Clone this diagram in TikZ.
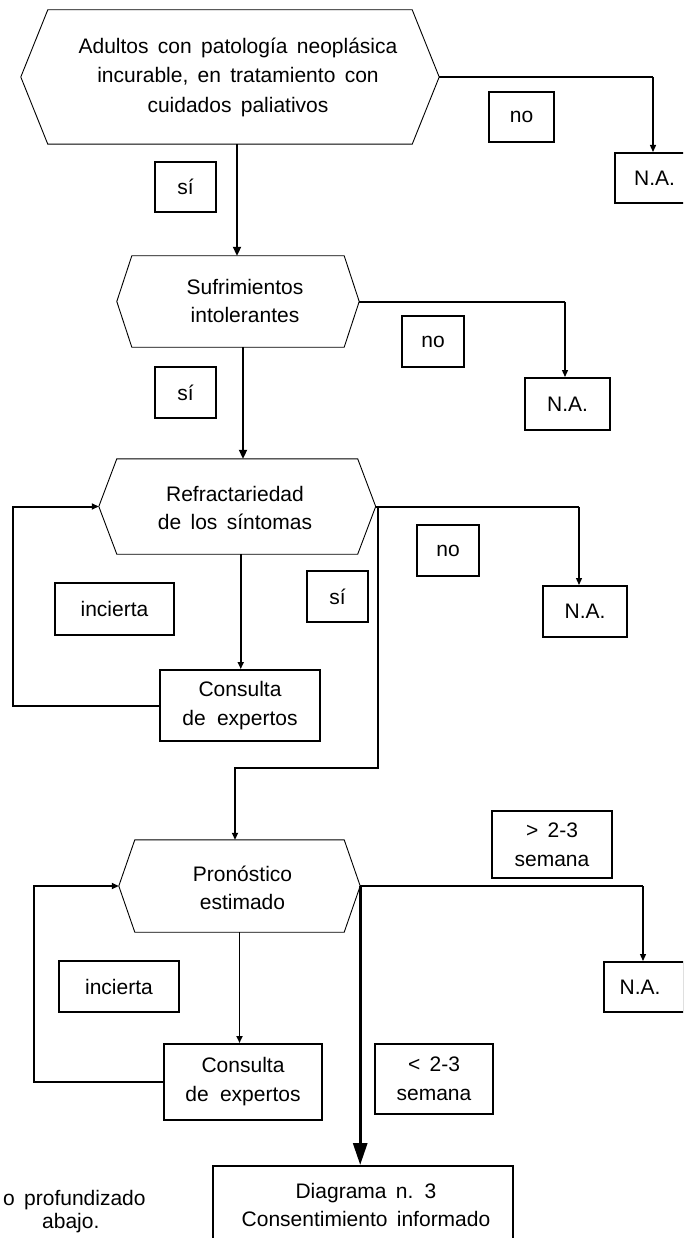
\documentclass[tikz,border=0pt]{standalone}
\usepackage{fontspec}
\setmainfont{Liberation Sans}[WordSpace=1.6]
\usetikzlibrary{arrows.meta}
\tikzset{
  txt/.style={align=center, inner sep=0pt, font=\fontsize{21}{28.5}\selectfont},
  hexn/.style={draw=none, inner sep=0pt},
  hexline/.style={line width=0.9pt, line join=miter},
  box/.style={draw, line width=2pt, inner sep=0pt, align=center, font=\fontsize{21}{29}\selectfont},
  thk/.style={line width=2pt},
  med/.style={line width=1.8pt},
  thn/.style={line width=1.3pt},
  vthk/.style={line width=3pt},
  arr/.style={-{Triangle[length=9pt,width=8pt]}},
  sarr/.style={-{Triangle[length=7pt,width=6pt]}},
  bigarr/.style={-{Triangle[length=22pt,width=14pt]}},
}
\begin{document}
\begin{tikzpicture}[x=1pt,y=-1pt]
\useasboundingbox (0,0) rectangle (683,1238);
\clip (0,0) rectangle (683,1238);
\fill[white] (0,0) rectangle (683,1238);

% hexagons
\node[hexn, minimum width=418, minimum height=134] (h1) at (230,77) {};
\draw[hexline] ([xshift=27]h1.north west) -- ([xshift=-27]h1.north east) -- (h1.east) -- ([xshift=-27]h1.south east) -- ([xshift=27]h1.south west) -- (h1.west) -- cycle;
\node[txt, font=\fontsize{21}{29.5}\selectfont] (h1t) at (238,77) {Adultos con patología neoplásica\\incurable, en tratamiento con\\cuidados paliativos};

\node[hexn, minimum width=242, minimum height=91] (h2) at (238,301.5) {};
\draw[hexline] ([xshift=15]h2.north west) -- ([xshift=-15]h2.north east) -- (h2.east) -- ([xshift=-15]h2.south east) -- ([xshift=15]h2.south west) -- (h2.west) -- cycle;
\node[txt] (h2t) at (245,301) {Sufrimientos\\intolerantes};

\node[hexn, minimum width=276.5, minimum height=95] (h3) at (237.25,506.5) {};
\draw[hexline] ([xshift=18]h3.north west) -- ([xshift=-18]h3.north east) -- (h3.east) -- ([xshift=-18]h3.south east) -- ([xshift=18]h3.south west) -- (h3.west) -- cycle;
\node[txt, font=\fontsize{21}{27.5}\selectfont] (h3t) at (235,508) {Refractariedad\\de los síntomas};

\node[hexn, minimum width=241, minimum height=92] (h4) at (239.5,886) {};
\draw[hexline] ([xshift=16]h4.north west) -- ([xshift=-16]h4.north east) -- (h4.east) -- ([xshift=-16]h4.south east) -- ([xshift=16]h4.south west) -- (h4.west) -- cycle;
\node[txt] (h4t) at (242.5,888) {Pronóstico\\estimado};

% boxes
\node[box, minimum width=76, minimum height=50] (na1) at (653,178) {};
\node[txt] (na1t) at (654.5,178) {N.A.};
\node[box, minimum width=85, minimum height=52] (na2) at (567.5,404) {N.A.};
\node[box, minimum width=84, minimum height=51] (na3) at (585,611.5) {N.A.};
\node[box, minimum width=80, minimum height=50] (na4) at (644,987) {};
\node[txt] (na4t) at (640,987) {N.A.};

\node[box, minimum width=65, minimum height=50] (no1) at (521.5,117) {no};
\node[box, minimum width=61, minimum height=50] (si1) at (185.5,187) {sí};
\node[box, minimum width=62, minimum height=51] (no2) at (433,341.5) {no};
\node[box, minimum width=61, minimum height=51] (si2) at (185.5,392.5) {sí};
\node[box, minimum width=62, minimum height=51] (no3) at (448,550.5) {no};
\node[box, minimum width=61, minimum height=51] (si3) at (337.5,596.5) {sí};
\node[box, minimum width=119, minimum height=52] (inc1) at (114.5,609) {incierta};
\node[box, minimum width=120, minimum height=51] (inc2) at (119,986.5) {incierta};
\node[box, minimum width=120, minimum height=67] (gt) at (552,844.5) {> 2-3\\semana};
\node[box, minimum width=118, minimum height=70] (lt) at (434,1079) {< 2-3\\semana};

\node[box, minimum width=160, minimum height=71] (c1) at (240,705.5) {Consulta\\de\kern2pt\ expertos};
\node[box, minimum width=158, minimum height=76] (c2) at (243,1082) {Consulta\\de\kern2pt\ expertos};

\node[box, minimum width=300, minimum height=110, anchor=north] (diag) at (363,1165) {};
\node[txt] (diagt) at (366,1205) {Diagrama n. 3\\Consentimiento informado};

\node[txt, anchor=base west] (ft1) at (3,1205) {o profundizado};
\node[txt, anchor=base west] (ft2) at (42,1228) {abajo.};

% connectors
\draw[thk, arr] ([xshift=-1]h2.north |- h1.south) -- ([xshift=-1]h2.north);
\draw[thk] (h1.east) -- (h1.east -| na1.north);
\draw[thn, sarr] (h1.east -| na1.north) -- (na1.north);

\draw[thk] (h2.east) -- ([xshift=-2.5]h2.east -| na2.north);
\draw[thn, sarr] ([xshift=-2.5]h2.east -| na2.north) -- ([xshift=-2.5]na2.north);

\draw[thk, arr] ([xshift=5]h2.south) -- ([xshift=5]h2.south |- h3.north);

\draw[thk] (h3.east) -- ([xshift=-6]h3.east -| na3.north);
\draw[thn, sarr] ([xshift=-6]h3.east -| na3.north) -- ([xshift=-6]na3.north);

\coordinate (bend) at (378,768);
\draw[thk, sarr] ([xshift=2.5]h3.east) |- ([xshift=-4.5]h4.north |- bend) -- ([xshift=-4.5]h4.north);

\draw[med, sarr] ([xshift=3.5]h3.south) -- ([xshift=3.5]h3.south |- c1.north);
\draw[thk, sarr] (c1.west) -- ++(-146,0) |- (h3.west);

\draw[thk] (h4.east) -- ([xshift=-1]h4.east -| na4.north);
\draw[thn, sarr] ([xshift=-1]h4.east -| na4.north) -- ([xshift=-1]na4.north);
\draw[vthk, bigarr] (h4.east) -- (h4.east |- diag.north);

\draw[med, sarr] (h4.south) -- (h4.south |- c2.north);
\draw[thk, sarr] (c2.west) -- ++(-129,0) |- (h4.west);
\end{tikzpicture}
\end{document}
